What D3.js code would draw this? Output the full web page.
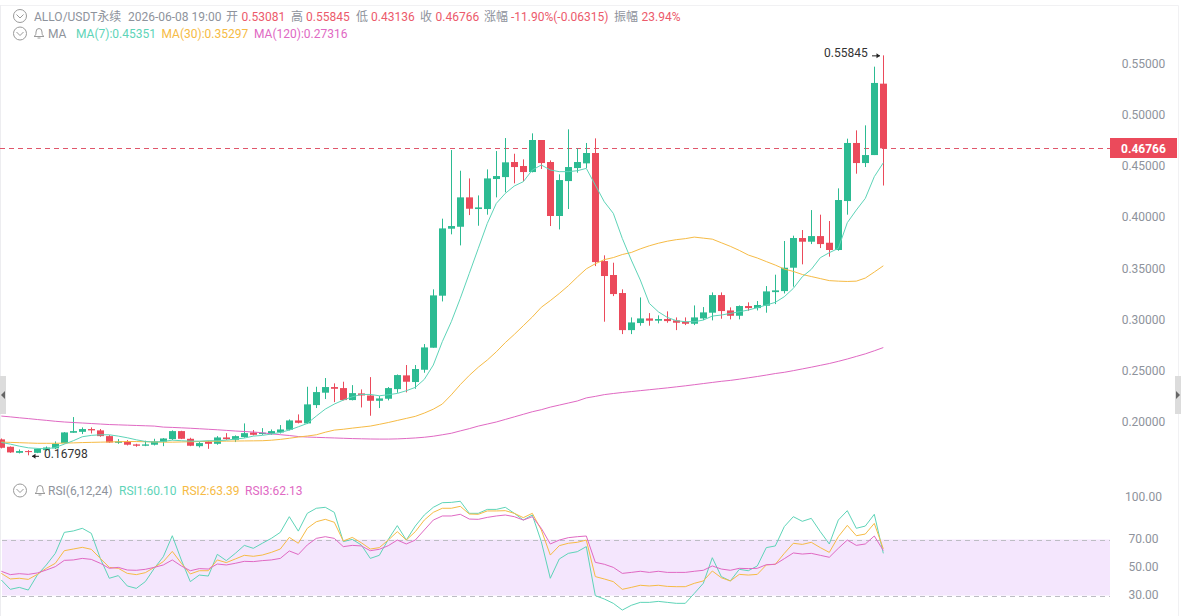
<!DOCTYPE html>
<html>
<head>
<meta charset="utf-8">
<script src="https://cdn.jsdelivr.net/npm/d3@7/dist/d3.min.js"></script>
<style>
html,body{margin:0;padding:0;background:#fff;overflow:hidden}
svg{display:block}
text{font-family:Roboto,"Noto Sans CJK SC",sans-serif;font-size:12px}
</style>
</head>
<body>
<svg id="chart" width="1181" height="616"></svg>
<script>
// ALLO/USDT perpetual candles, one value per candle
const opens = [
.1835,.1763,.1704,.1721,.1704,.1730,.1747,.1799,.1900,.1909,
.1936,.1923,.1867,.1802,.1812,.1786,.1773,.1783,.1812,.1838,
.1916,.1841,.1769,.1812,.1792,.1854,.1831,.1858,.1903,.1887,
.1887,.1903,.1929,.2020,.1991,.2170,.2291,.2346,.2336,.2219,
.2284,.2264,.2212,.2232,.2326,.2460,.2395,.2515,.2730,.3238,
.3892,.3911,.4198,.4084,.4084,.4377,.4396,.4543,.4504,.4445,
.4758,.4543,.4016,.4357,.4484,.4530,.4631,.3576,.3440,.3264,
.2902,.2971,.3016,.2994,.3010,.2997,.2984,.2964,.3016,.3072,
.3244,.3094,.3042,.3137,.3117,.3140,.3273,.3283,.3511,.3801,
.3765,.3820,.3755,.3684,.4162,.4729,.4533,.4611,.53081];
const closes = [
.1753,.1708,.1721,.1711,.1743,.1756,.1792,.1903,.1916,.1936,
.1923,.1867,.1805,.1815,.1783,.1773,.1786,.1815,.1844,.1916,
.1841,.1773,.1799,.1792,.1854,.1838,.1867,.1896,.1880,.1900,
.1916,.1932,.2020,.1997,.2177,.2297,.2346,.2329,.2219,.2287,
.2264,.2212,.2235,.2336,.2463,.2398,.2522,.2733,.3241,.3895,
.3918,.4198,.4087,.4100,.4383,.4406,.4540,.4494,.4445,.4758,
.4533,.4016,.4367,.4494,.4543,.4631,.3566,.3430,.3254,.2902,
.2977,.3016,.2994,.3010,.2990,.2974,.2964,.3026,.3075,.3244,
.3088,.3042,.3137,.3117,.3147,.3280,.3290,.3511,.3801,.3765,
.3820,.3742,.3684,.4172,.4729,.4533,.4611,.5315,.46766];
const highs = [
.1844,.1766,.1737,.1730,.1747,.1766,.1815,.1906,.2053,.1952,
.1952,.1936,.1877,.1838,.1828,.1792,.1822,.1841,.1848,.1923,
.1919,.1851,.1809,.1822,.1867,.1896,.1874,.1991,.1926,.1945,
.1932,.1975,.2030,.2079,.2349,.2349,.2434,.2382,.2398,.2365,
.2323,.2443,.2258,.2346,.2469,.2561,.2561,.2766,.3300,.3990,
.4660,.4458,.4383,.4217,.4471,.4650,.4777,.4624,.4569,.4823,
.4758,.4559,.4423,.4862,.4676,.4729,.4774,.3632,.3560,.3300,
.3026,.3221,.3068,.3046,.3085,.3026,.3026,.3143,.3127,.3270,
.3270,.3124,.3143,.3173,.3186,.3332,.3443,.3772,.3824,.3879,
.4074,.4029,.3967,.4286,.4771,.4852,.4901,.5474,.55845];
const lows = [
.1747,.1704,.1698,.16798,.1701,.1721,.1740,.1796,.1900,.1887,
.1893,.1861,.1802,.1792,.1776,.1763,.1769,.1776,.1769,.1828,
.1838,.1769,.1756,.1743,.1783,.1831,.1809,.1851,.1874,.1880,
.1880,.1893,.1923,.1991,.1985,.2141,.2229,.2199,.2216,.2216,
.2147,.2066,.2141,.2216,.2290,.2294,.2329,.2486,.2730,.3182,
.3837,.3729,.4025,.3921,.4029,.4198,.4247,.4335,.4354,.4442,
.4475,.3918,.3885,.4084,.4439,.4484,.3527,.2984,.3234,.2863,
.2863,.2945,.2945,.2968,.2974,.2902,.2951,.2951,.3000,.2997,
.3013,.3007,.3007,.3091,.3094,.3072,.3156,.3260,.3326,.3544,
.3742,.3703,.3619,.3677,.4029,.4429,.4494,.4611,.43136];

// Moving averages
const ma7 = [
.1805,.1789,.1769,.1753,.1747,.1743,.1756,.1789,.1822,.1861,
.1874,.1880,.1880,.1867,.1851,.1831,.1815,.1809,.1815,.1828,
.1822,.1818,.1818,.1822,.1822,.1828,.1838,.1848,.1867,.1874,
.1887,.1903,.1926,.1958,.1991,.2063,.2131,.2180,.2219,.2251,
.2274,.2274,.2261,.2271,.2284,.2310,.2343,.2421,.2561,.2789,
.2984,.3212,.3456,.3700,.3944,.4139,.4237,.4309,.4351,.4465,
.4514,.4465,.4449,.4449,.4458,.4481,.4318,.4155,.4042,.3797,
.3586,.3391,.3163,.3081,.3026,.2994,.2984,.2984,.3000,.3039,
.3049,.3065,.3081,.3098,.3121,.3147,.3173,.3228,.3309,.3423,
.3495,.3609,.3658,.3700,.3951,.4074,.4188,.4400,.45351];
const ma30 = [
.1809,.1806,.1803,.1800,.1797,.1797,.1797,.1799,.1801,.1804,
.1806,.1808,.1810,.1812,.1814,.1814,.1812,.1810,.1808,.1808,
.1810,.1812,.1814,.1816,.1817,.1818,.1819,.1820,.1821,.1822,
.1827,.1835,.1846,.1858,.1868,.1880,.1905,.1926,.1934,.1945,
.1955,.1965,.1982,.2000,.2020,.2040,.2060,.2092,.2130,.2180,
.2270,.2370,.2460,.2540,.2610,.2690,.2780,.2860,.2945,.3030,
.3125,.3190,.3260,.3335,.3420,.3500,.3550,.3590,.3610,.3640,
.3660,.3695,.3725,.3750,.3770,.3785,.3795,.3810,.3800,.3790,
.3755,.3720,.3680,.3635,.3606,.3571,.3537,.3498,.3475,.3445,
.3425,.3405,.3385,.3380,.3377,.3380,.3410,.3469,.35297];
const ma120 = [
.2063,.2055,.2046,.2038,.2029,.2021,.2012,.2005,.2000,.1995,
.1990,.1985,.1980,.1977,.1974,.1971,.1968,.1965,.1955,.1952,
.1948,.1944,.1939,.1934,.1929,.1923,.1917,.1912,.1907,.1900,
.1889,.1881,.1873,.1863,.1858,.1855,.1852,.1849,.1846,.1843,
.1841,.1839,.1838,.1838,.1840,.1844,.1849,.1856,.1866,.1880,
.1895,.1918,.1940,.1965,.1985,.2005,.2030,.2055,.2080,.2105,
.2125,.2150,.2170,.2190,.2210,.2240,.2255,.2272,.2283,.2293,
.2302,.2311,.2320,.2329,.2338,.2348,.2358,.2369,.2380,.2391,
.2402,.2411,.2423,.2436,.2449,.2463,.2478,.2490,.2506,.2523,
.2540,.2558,.2576,.2597,.2620,.2645,.2670,.2700,.27316];

// RSI(6,12,24)
const rsi1 = [
41.1,34.4,35.8,33.9,44.6,51.8,60.1,75.1,76.1,78.0,
74.4,56.5,42.3,44.2,36.8,35.1,39.9,49.4,57.7,72.7,
55.4,39.9,44.6,43.9,59.4,54.9,60.1,65.8,63.7,67.3,
70.8,75.1,86.3,76.0,88.7,92.3,93.0,89.4,68.5,70.1,
66.1,56.5,58.7,70.1,79.9,69.6,79.6,87.5,93.0,96.3,
96.5,97.3,88.7,88.7,91.5,91.5,93.0,88.7,83.9,87.5,
68.5,42.3,56.1,60.1,61.3,64.9,29.9,27.5,24.4,19.6,
23.0,25.1,25.1,25.8,25.1,24.4,24.4,31.5,38.7,57.0,
43.5,40.4,48.7,47.7,51.1,64.2,65.4,79.2,86.3,83.0,
85.1,75.6,66.8,83.9,90.6,78.0,79.6,88.0,60.10];
const rsi2 = [
45.8,41.8,42.3,41.5,45.1,49.4,53.0,62.0,63.2,64.4,
63.0,56.5,50.1,49.4,45.8,44.9,46.3,50.1,54.2,61.5,
53.0,45.4,47.7,47.7,55.4,53.5,56.1,58.7,58.0,58.9,
60.8,63.2,71.5,67.3,78.0,82.7,84.4,82.3,68.9,71.5,
67.7,63.2,64.2,69.6,75.6,69.6,75.6,83.9,89.4,92.3,
92.3,93.7,88.2,88.0,90.4,90.4,90.6,88.7,85.6,88.7,
76.8,58.9,65.6,67.3,68.0,69.6,43.5,41.8,39.9,34.4,
35.8,37.3,36.8,37.3,36.5,36.3,36.3,38.7,40.4,47.5,
42.7,40.4,45.1,44.6,45.1,51.8,52.3,60.1,67.3,66.5,
68.0,64.2,60.8,72.0,80.1,72.7,73.9,81.5,63.39];
const rsi3 = [
47.3,44.9,45.6,45.1,46.1,48.2,50.6,55.1,55.4,56.5,
55.8,53.0,49.4,50.1,48.2,48.0,48.7,50.1,51.8,55.4,
51.1,47.7,49.2,48.9,52.5,51.8,53.0,54.4,54.2,54.9,
55.4,56.5,61.8,59.3,66.1,70.8,72.0,70.8,64.9,65.8,
65.4,62.0,63.0,65.6,69.6,66.8,69.6,76.8,83.9,86.8,
86.8,88.0,84.6,84.4,85.8,86.8,87.5,86.3,83.9,86.3,
78.0,66.8,69.6,71.3,72.0,72.5,53.7,52.3,50.1,45.8,
46.5,47.3,46.5,47.3,46.5,46.5,46.5,47.3,48.0,51.1,
48.9,48.0,49.4,49.2,49.4,52.0,52.3,56.3,60.4,59.6,
60.1,58.7,57.3,63.7,69.6,65.8,66.8,72.5,62.13];

const priceTicks = [0.55,0.50,0.45,0.40,0.35,0.30,0.25,0.20];
const rsiTicks = [100,70,50,30];
const lastPrice = 0.46766;
const maxPrice = 0.55845;
const minPrice = 0.16798;

const GREEN = "#2cbb92", RED = "#eb4a5b";
const CYAN = "#5ed4b8", AMBER = "#f6bb45", PINK = "#e069c3";
const GREY = "#8e939c";

const svg = d3.select("#chart");
const x = d3.scaleLinear().domain([0, opens.length - 1]).range([1.3, 883.3]);
const y = d3.scaleLinear().domain([0.20, 0.55]).range([422.5, 64]);
const yr = d3.scaleLinear().domain([30, 100]).range([595.5, 497.5]);
const px = i => Math.floor(x(i)) + 0.5;

// panel frame
svg.append("path").attr("d", "M0.5,5.5H1178.5V616").attr("fill", "none").attr("stroke", "#f1f1f3");
svg.append("path").attr("d", "M0.5,5V616").attr("fill", "none").attr("stroke", "#ededf0");

// collapse handles at both edges
[[0, 6, "M1,395l4,-4v8z"], [1175, 6, "M1176,391l4,4l-4,4z"]].forEach(([hx, w, tri]) => {
  svg.append("rect").attr("x", hx).attr("y", 376).attr("width", w).attr("height", 38).attr("fill", "#dcdcdc");
  svg.append("path").attr("d", tri).attr("fill", "#666");
});

// RSI reference band
svg.append("rect").attr("x", 2).attr("width", 1108).attr("y", yr(70)).attr("height", yr(30) - yr(70)).attr("fill", "#f4e6fd");
[70, 30].forEach(v => {
  svg.append("line").attr("x1", 2).attr("x2", 1110).attr("y1", Math.round(yr(v)) + 0.5).attr("y2", Math.round(yr(v)) + 0.5)
    .attr("stroke", "#bdbdc4").attr("stroke-dasharray", "5,4");
});

// last price guide
svg.append("line").attr("x1", 0).attr("x2", 1110).attr("y1", Math.round(y(lastPrice)) + 0.5).attr("y2", Math.round(y(lastPrice)) + 0.5)
  .attr("stroke", "#e0566a").attr("stroke-dasharray", "5,4");

// candles
const idx = d3.range(opens.length);
const candle = svg.append("g").selectAll("g").data(idx).join("g")
  .attr("fill", i => closes[i] < opens[i] ? RED : GREEN)
  .attr("stroke", i => closes[i] < opens[i] ? RED : GREEN);
candle.append("line").attr("x1", px).attr("x2", px).attr("y1", i => y(highs[i])).attr("y2", i => y(lows[i])).attr("stroke-width", 1);
candle.append("rect").attr("stroke", "none")
  .attr("x", i => Math.floor(x(i)) - 3).attr("width", 7)
  .attr("y", i => y(Math.max(opens[i], closes[i])))
  .attr("height", i => Math.max(1, Math.abs(y(opens[i]) - y(closes[i]))));

// overlay lines
const priceLine = d3.line().x((d, i) => x(i)).y(d => y(d));
const rsiLine = d3.line().x((d, i) => x(i)).y(d => yr(d));
[[ma120, PINK], [ma30, AMBER], [ma7, CYAN]].forEach(([s, c]) => {
  svg.append("path").attr("d", priceLine(s)).attr("fill", "none").attr("stroke", c).attr("stroke-width", 1);
});
[[rsi1, CYAN], [rsi2, AMBER], [rsi3, PINK]].forEach(([s, c]) => {
  svg.append("path").attr("d", rsiLine(s)).attr("fill", "none").attr("stroke", c).attr("stroke-width", 1);
});

// value axes, labels centred in the right gutter
const styleAxis = (g, dy) => {
  g.select(".domain").remove();
  g.selectAll("line").remove();
  g.selectAll("text").attr("text-anchor", "middle").attr("fill", GREY).attr("x", 0).attr("y", dy);
};
svg.append("g").attr("transform", "translate(1143.5,0)")
  .call(d3.axisRight(y).tickValues(priceTicks).tickSize(0).tickFormat(d3.format(".5f"))).call(styleAxis, -0.5);
svg.append("g").attr("transform", "translate(1143.5,0)")
  .call(d3.axisRight(yr).tickValues(rsiTicks).tickSize(0).tickFormat(d3.format(".2f"))).call(styleAxis, -1);

// last price tag
const tagY = Math.round(y(lastPrice));
svg.append("rect").attr("x", 1110).attr("y", tagY - 10).attr("width", 67).attr("height", 20).attr("fill", RED);
svg.append("text").attr("x", 1143.5).attr("y", tagY + 4.5).attr("text-anchor", "middle").attr("fill", "#fff")
  .attr("font-weight", "700").text(d3.format(".5f")(lastPrice));

// extreme markers
const arrow = (x1, x2, yy) => {
  const d = x2 > x1 ? -1 : 1;
  svg.append("path").attr("d", `M${x1},${yy}H${x2}`).attr("stroke", "#222").attr("fill", "none");
  svg.append("path").attr("d", `M${x2},${yy}l${3.5 * d},-2.5v5z`).attr("fill", "#222");
};
svg.append("text").attr("x", 824).attr("y", y(maxPrice) + 2).attr("fill", "#333").text(d3.format(".5f")(maxPrice));
arrow(872, 880, y(maxPrice) + 0.5);
svg.append("text").attr("x", 44).attr("y", y(minPrice) + 3).attr("fill", "#333").text(d3.format(".5f")(minPrice));
arrow(39, 32, y(minPrice) + 1);

// legend rows
const label = (lx, ly, s, c) => svg.append("text").attr("x", lx).attr("y", ly).attr("fill", c).text(s);
const chevron = (cx, cy) => {
  svg.append("circle").attr("cx", cx).attr("cy", cy).attr("r", 6.5).attr("fill", "none").attr("stroke", "#9a9a9a");
  svg.append("path").attr("d", `M${cx - 3.5},${cy - 1.5}L${cx},${cy + 2}L${cx + 3.5},${cy - 1.5}`).attr("fill", "none").attr("stroke", "#9a9a9a");
};
const bell = (cx, cy) => {
  svg.append("path").attr("d", `M${cx - 5},${cy + 3.5}c2,-1 2,-3 2,-4.5a3,3.5 0 0 1 6,0c0,1.5 0,3.5 2,4.5zM${cx - 1.5},${cy + 5}h3`)
    .attr("fill", "none").attr("stroke", "#9a9a9a");
};
const ROW1 = 20.5, ROW2 = 38, ROW3 = 494.5;
chevron(20, 16);
[[34, "ALLO/USDT永续"], [128, "2026-06-08 19:00"], [226, "开"], [291, "高"], [356, "低"], [420, "收"], [484, "涨幅"], [614, "振幅"]]
  .forEach(([lx, s]) => label(lx, ROW1, s, GREY));
[[241.5, "0.53081"], [306, "0.55845"], [371, "0.43136"], [435.5, "0.46766"], [511, "-11.90%(-0.06315)"], [641.5, "23.94%"]]
  .forEach(([lx, s]) => label(lx, ROW1, s, "#ec5a6b"));
chevron(20, 33.5);
bell(39, 33);
label(48, ROW2, "MA", GREY);
label(76, ROW2, "MA(7):0.45351", CYAN);
label(161.5, ROW2, "MA(30):0.35297", AMBER);
label(254, ROW2, "MA(120):0.27316", PINK);
chevron(20, 490.5);
bell(40, 490);
label(48, ROW3, "RSI(6,12,24)", GREY);
label(119, ROW3, "RSI1:60.10", CYAN);
label(182, ROW3, "RSI2:63.39", AMBER);
label(245, ROW3, "RSI3:62.13", PINK);
</script>
</body>
</html>
